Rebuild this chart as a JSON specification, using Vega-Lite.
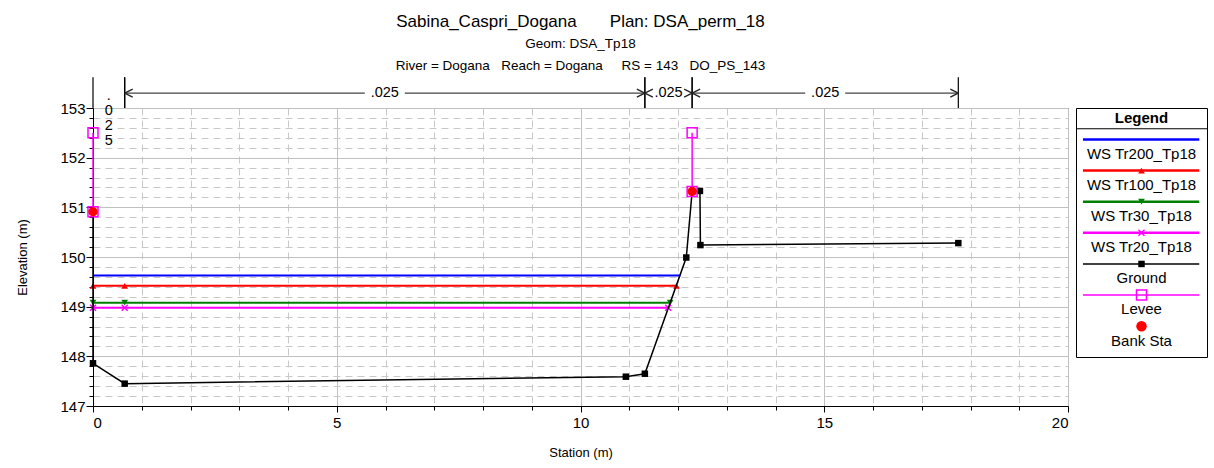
{
  "$schema": "https://vega.github.io/schema/vega-lite/v6.json",
  "background": "white",
  "padding": {"left": 16, "top": 12, "right": 0, "bottom": 0},
  "spacing": 8,
  "bounds": "flush",
  "config": {
    "font": "Liberation Sans",
    "view": {"stroke": "black", "strokeWidth": 1},
    "axis": {"labelColor": "black", "titleColor": "black", "tickColor": "black", "domainColor": "black", "titleFontWeight": "normal"}
  },
  "datasets": {
    "profile": [
      {"series": "WS Tr200_Tp18", "station": 0, "elev": 149.63},
      {"series": "WS Tr200_Tp18", "station": 12.05, "elev": 149.63},
      {"series": "WS Tr100_Tp18", "station": 0, "elev": 149.42},
      {"series": "WS Tr100_Tp18", "station": 0.65, "elev": 149.42},
      {"series": "WS Tr100_Tp18", "station": 11.97, "elev": 149.42},
      {"series": "WS Tr30_Tp18", "station": 0, "elev": 149.08},
      {"series": "WS Tr30_Tp18", "station": 0.65, "elev": 149.08},
      {"series": "WS Tr30_Tp18", "station": 11.84, "elev": 149.08},
      {"series": "WS Tr20_Tp18", "station": 0, "elev": 148.98},
      {"series": "WS Tr20_Tp18", "station": 0.65, "elev": 148.98},
      {"series": "WS Tr20_Tp18", "station": 11.8, "elev": 148.98},
      {"series": "Ground", "station": 0, "elev": 150.91},
      {"series": "Ground", "station": 0, "elev": 147.86},
      {"series": "Ground", "station": 0.65, "elev": 147.45},
      {"series": "Ground", "station": 10.93, "elev": 147.59},
      {"series": "Ground", "station": 11.32, "elev": 147.65},
      {"series": "Ground", "station": 12.17, "elev": 149.99},
      {"series": "Ground", "station": 12.29, "elev": 151.32},
      {"series": "Ground", "station": 12.45, "elev": 151.33},
      {"series": "Ground", "station": 12.46, "elev": 150.24},
      {"series": "Ground", "station": 17.75, "elev": 150.28},
      {"series": "Levee", "side": "left", "station": 0, "elev": 152.5},
      {"series": "Levee", "side": "left", "station": 0, "elev": 150.91},
      {"series": "Levee", "side": "right", "station": 12.29, "elev": 152.5},
      {"series": "Levee", "side": "right", "station": 12.29, "elev": 151.32},
      {"series": "Bank Sta", "station": 0, "elev": 150.91},
      {"series": "Bank Sta", "station": 12.29, "elev": 151.32}
    ],
    "nvalues": [
      {"from": 0, "to": 0.65, "n": ".025"},
      {"from": 0.65, "to": 11.32, "n": ".025"},
      {"from": 11.32, "to": 12.29, "n": ".025"},
      {"from": 12.29, "to": 17.75, "n": ".025"}
    ],
    "legend": [
      {"series": "WS Tr200_Tp18"},
      {"series": "WS Tr100_Tp18"},
      {"series": "WS Tr30_Tp18"},
      {"series": "WS Tr20_Tp18"},
      {"series": "Ground"},
      {"series": "Levee"},
      {"series": "Bank Sta"}
    ]
  },
  "hconcat": [
    {
      "width": 975,
      "height": 298,
      "title": {
        "text": "Sabina_Caspri_Dogana\u00a0\u00a0\u00a0\u00a0\u00a0\u00a0\u00a0Plan: DSA_perm_18",
        "subtitle": ["Geom: DSA_Tp18", "River = Dogana\u00a0\u00a0\u00a0Reach = Dogana\u00a0\u00a0\u00a0\u00a0\u00a0RS = 143\u00a0\u00a0\u00a0DO_PS_143"],
        "fontSize": 17,
        "fontWeight": "normal",
        "color": "black",
        "subtitleFontSize": 13.5,
        "subtitleColor": "black",
        "subtitlePadding": 6,
        "subtitleLineHeight": 22,
        "anchor": "middle",
        "frame": "group",
        "offset": 3
      },
      "layer": [
        {
          "data": {"name": "profile"},
          "mark": {"type": "point", "opacity": 0},
          "encoding": {
            "x": {"field": "station", "type": "quantitative", "scale": {"domain": [0, 20], "nice": false, "zero": false},
              "axis": {"orient": "bottom", "values": [1,2,3,4,6,7,8,9,11,12,13,14,16,17,18,19], "labels": false, "domain": false, "tickSize": 4, "grid": true, "gridDash": [7, 5], "gridColor": "#c8c8c8", "title": null}},
            "y": {"field": "elev", "type": "quantitative", "scale": {"domain": [147, 153], "nice": false, "zero": false},
              "axis": {"orient": "left", "values": [147.2,147.4,147.6,147.8,148.2,148.4,148.6,148.8,149.2,149.4,149.6,149.8,150.2,150.4,150.6,150.8,151.2,151.4,151.6,151.8,152.2,152.4,152.6,152.8], "labels": false, "domain": false, "tickSize": 4, "grid": true, "gridDash": [7, 5], "gridColor": "#c8c8c8", "title": null}}
          }
        },
        {
          "data": {"name": "profile"},
          "encoding": {
            "x": {"field": "station", "type": "quantitative", "scale": {"domain": [0, 20], "nice": false, "zero": false},
              "axis": {"orient": "bottom", "values": [0, 5, 10, 15, 20], "format": "d", "title": "Station (m)", "titleFontSize": 13, "titlePadding": 16, "labelFontSize": 15, "labelPadding": 3, "tickSize": 6, "grid": true, "gridColor": "#c0c0c0"}},
            "y": {"field": "elev", "type": "quantitative", "scale": {"domain": [147, 153], "nice": false, "zero": false},
              "axis": {"orient": "left", "values": [147, 148, 149, 150, 151, 152, 153], "format": "d", "title": "Elevation (m)", "titleFontSize": 13, "titlePadding": 30, "labelFontSize": 15, "labelPadding": 1, "tickSize": 7, "grid": true, "gridColor": "#c0c0c0"}},
            "color": {"field": "series", "type": "nominal", "legend": null,
              "scale": {"domain": ["WS Tr200_Tp18", "WS Tr100_Tp18", "WS Tr30_Tp18", "WS Tr20_Tp18", "Ground", "Levee", "Bank Sta"],
                        "range": ["#0000ff", "#ff0000", "#008000", "#ff00ff", "#000000", "#ff00ff", "#ff0000"]}}
          },
          "layer": [
            {
              "transform": [{"filter": "indexof(datum.series, 'WS') == 0"}],
              "mark": {"type": "line", "strokeWidth": 2},
              "encoding": {"order": {"value": null}}
            },
            {
              "transform": [{"filter": "datum.series == 'WS Tr100_Tp18'"}],
              "mark": {"type": "point", "filled": true, "shape": "triangle-up", "size": 45, "opacity": 1}
            },
            {
              "transform": [{"filter": "datum.series == 'WS Tr30_Tp18'"}],
              "mark": {"type": "point", "filled": true, "shape": "triangle-down", "size": 45, "opacity": 1}
            },
            {
              "transform": [{"filter": "datum.series == 'WS Tr20_Tp18'"}],
              "mark": {"type": "point", "filled": false, "shape": "M-1,-1L1,1M-1,1L1,-1", "size": 36, "strokeWidth": 1.5, "opacity": 1}
            },
            {
              "transform": [{"filter": "datum.series == 'Ground'"}],
              "mark": {"type": "line", "strokeWidth": 1.5},
              "encoding": {"order": {"value": null}}
            },
            {
              "transform": [{"filter": "datum.series == 'Ground'"}],
              "mark": {"type": "point", "filled": true, "shape": "square", "size": 42, "opacity": 1}
            },
            {
              "transform": [{"filter": "datum.series == 'Levee'"}],
              "mark": {"type": "line", "strokeWidth": 1.5},
              "encoding": {"detail": {"field": "side"}, "order": {"value": null}}
            },
            {
              "transform": [{"filter": "datum.series == 'Levee'"}],
              "mark": {"type": "point", "filled": false, "shape": "square", "size": 100, "strokeWidth": 1.5, "opacity": 1}
            },
            {
              "transform": [{"filter": "datum.series == 'Bank Sta'"}],
              "mark": {"type": "point", "filled": true, "shape": "circle", "size": 85, "opacity": 1}
            }
          ]
        },
        {
          "data": {"name": "nvalues"},
          "transform": [
            {"calculate": "(datum.from + datum.to) / 2", "as": "mid"},
            {"calculate": "join(split(datum.n, ''), '\\n')", "as": "stacked"}
          ],
          "layer": [
            {
              "mark": {"type": "rule", "color": "black", "strokeWidth": 1.2},
              "encoding": {
                "x": {"field": "from", "type": "quantitative", "scale": {"domain": [0, 20], "nice": false, "zero": false}, "axis": null},
                "y": {"datum": 153, "type": "quantitative", "scale": {"domain": [147, 153], "nice": false, "zero": false}, "axis": null},
                "y2": {"datum": 153.62}
              }
            },
            {
              "mark": {"type": "rule", "color": "black", "strokeWidth": 1.2},
              "encoding": {
                "x": {"field": "to", "type": "quantitative", "scale": {"domain": [0, 20], "nice": false, "zero": false}, "axis": null},
                "y": {"datum": 153, "type": "quantitative", "scale": {"domain": [147, 153], "nice": false, "zero": false}, "axis": null},
                "y2": {"datum": 153.62}
              }
            },
            {
              "transform": [{"filter": "datum.to - datum.from > 2"}],
              "mark": {"type": "rule", "color": "#444444", "strokeWidth": 1.2, "x2Offset": -20},
              "encoding": {
                "x": {"field": "from", "type": "quantitative", "scale": {"domain": [0, 20], "nice": false, "zero": false}, "axis": null},
                "x2": {"field": "mid"},
                "y": {"datum": 153.3, "type": "quantitative", "scale": {"domain": [147, 153], "nice": false, "zero": false}, "axis": null}
              }
            },
            {
              "transform": [{"filter": "datum.to - datum.from > 2"}],
              "mark": {"type": "rule", "color": "#444444", "strokeWidth": 1.2, "xOffset": 20},
              "encoding": {
                "x": {"field": "mid", "type": "quantitative", "scale": {"domain": [0, 20], "nice": false, "zero": false}, "axis": null},
                "x2": {"field": "to"},
                "y": {"datum": 153.3, "type": "quantitative", "scale": {"domain": [147, 153], "nice": false, "zero": false}, "axis": null}
              }
            },
            {
              "transform": [{"filter": "datum.to - datum.from > 0.9"}],
              "mark": {"type": "point", "shape": "M0,0L2,-1M0,0L2,1", "filled": false, "size": 64, "color": "#222222", "strokeWidth": 1.3, "opacity": 1},
              "encoding": {
                "x": {"field": "from", "type": "quantitative", "scale": {"domain": [0, 20], "nice": false, "zero": false}, "axis": null},
                "y": {"datum": 153.3, "type": "quantitative", "scale": {"domain": [147, 153], "nice": false, "zero": false}, "axis": null}
              }
            },
            {
              "transform": [{"filter": "datum.to - datum.from > 0.9"}],
              "mark": {"type": "point", "shape": "M0,0L-2,-1M0,0L-2,1", "filled": false, "size": 64, "color": "#222222", "strokeWidth": 1.3, "opacity": 1},
              "encoding": {
                "x": {"field": "to", "type": "quantitative", "scale": {"domain": [0, 20], "nice": false, "zero": false}, "axis": null},
                "y": {"datum": 153.3, "type": "quantitative", "scale": {"domain": [147, 153], "nice": false, "zero": false}, "axis": null}
              }
            },
            {
              "transform": [{"filter": "datum.to - datum.from > 0.9"}],
              "mark": {"type": "text", "fontSize": 14.5, "baseline": "middle", "align": "center", "color": "black"},
              "encoding": {
                "x": {"field": "mid", "type": "quantitative", "scale": {"domain": [0, 20], "nice": false, "zero": false}, "axis": null},
                "y": {"datum": 153.3, "type": "quantitative", "scale": {"domain": [147, 153], "nice": false, "zero": false}, "axis": null},
                "text": {"field": "n"}
              }
            },
            {
              "transform": [{"filter": "datum.to - datum.from <= 0.9"}],
              "mark": {"type": "text", "fontSize": 14.5, "baseline": "alphabetic", "align": "center", "color": "black", "lineBreak": "\n", "lineHeight": 15},
              "encoding": {
                "x": {"field": "mid", "type": "quantitative", "scale": {"domain": [0, 20], "nice": false, "zero": false}, "axis": null},
                "y": {"datum": 153.16, "type": "quantitative", "scale": {"domain": [147, 153], "nice": false, "zero": false}, "axis": null},
                "text": {"field": "stacked"}
              }
            }
          ]
        }
      ],
      "resolve": {"axis": {"x": "independent", "y": "independent"}}
    },
    {
      "width": 131,
      "height": 249,
      "data": {"name": "legend"},
      "encoding": {
        "y": {"field": "series", "type": "nominal", "axis": null,
          "scale": {"type": "point", "domain": ["WS Tr200_Tp18", "WS Tr100_Tp18", "WS Tr30_Tp18", "WS Tr20_Tp18", "Ground", "Levee", "Bank Sta"], "padding": 1.016, "align": 0.735}},
        "x": {"datum": 0.5, "type": "quantitative", "scale": {"domain": [0, 1]}, "axis": null}
      },
      "layer": [
        {
          "transform": [{"filter": "datum.series == 'WS Tr200_Tp18'"}],
          "mark": {"type": "text", "text": "Legend", "fontSize": 15, "fontWeight": "bold", "baseline": "middle", "align": "center", "color": "black", "yOffset": -36}
        },
        {
          "transform": [{"filter": "datum.series == 'WS Tr200_Tp18'"}],
          "mark": {"type": "rule", "color": "black", "yOffset": -25},
          "encoding": {
            "x": {"datum": 0, "type": "quantitative", "scale": {"domain": [0, 1]}, "axis": null},
            "x2": {"datum": 1}
          }
        },
        {
          "transform": [{"filter": "indexof(datum.series, 'WS') == 0"}],
          "mark": {"type": "rule", "strokeWidth": 2.5, "yOffset": -14.3},
          "encoding": {
            "x": {"datum": 0.053, "type": "quantitative", "scale": {"domain": [0, 1]}, "axis": null},
            "x2": {"datum": 0.941},
            "color": {"field": "series", "type": "nominal", "legend": null,
              "scale": {"domain": ["WS Tr200_Tp18", "WS Tr100_Tp18", "WS Tr30_Tp18", "WS Tr20_Tp18", "Ground", "Levee", "Bank Sta"],
                        "range": ["#0000ff", "#ff0000", "#008000", "#ff00ff", "#000000", "#ff00ff", "#ff0000"]}}
          }
        },
        {
          "transform": [{"filter": "datum.series == 'Ground'"}],
          "mark": {"type": "rule", "strokeWidth": 1.5, "yOffset": -14.3, "color": "#000000"},
          "encoding": {
            "x": {"datum": 0.053, "type": "quantitative", "scale": {"domain": [0, 1]}, "axis": null},
            "x2": {"datum": 0.941}
          }
        },
        {
          "transform": [{"filter": "datum.series == 'Levee'"}],
          "mark": {"type": "rule", "strokeWidth": 1.5, "yOffset": -14.3, "color": "#ff00ff"},
          "encoding": {
            "x": {"datum": 0.053, "type": "quantitative", "scale": {"domain": [0, 1]}, "axis": null},
            "x2": {"datum": 0.941}
          }
        },
        {
          "transform": [{"filter": "datum.series == 'WS Tr100_Tp18'"}],
          "mark": {"type": "point", "filled": true, "shape": "triangle-up", "size": 45, "color": "#ff0000", "opacity": 1, "yOffset": -14.3}
        },
        {
          "transform": [{"filter": "datum.series == 'WS Tr30_Tp18'"}],
          "mark": {"type": "point", "filled": true, "shape": "triangle-down", "size": 45, "color": "#008000", "opacity": 1, "yOffset": -14.3}
        },
        {
          "transform": [{"filter": "datum.series == 'WS Tr20_Tp18'"}],
          "mark": {"type": "point", "filled": false, "shape": "M-1,-1L1,1M-1,1L1,-1", "size": 36, "strokeWidth": 1.5, "color": "#ff00ff", "opacity": 1, "yOffset": -14.3}
        },
        {
          "transform": [{"filter": "datum.series == 'Ground'"}],
          "mark": {"type": "point", "filled": true, "shape": "square", "size": 42, "color": "#000000", "opacity": 1, "yOffset": -14.3}
        },
        {
          "transform": [{"filter": "datum.series == 'Levee'"}],
          "mark": {"type": "point", "filled": false, "shape": "square", "size": 100, "strokeWidth": 1.5, "color": "#ff00ff", "opacity": 1, "yOffset": -14.3}
        },
        {
          "transform": [{"filter": "datum.series == 'Bank Sta'"}],
          "mark": {"type": "point", "filled": true, "shape": "circle", "size": 110, "color": "#ff0000", "opacity": 1, "yOffset": -14.3}
        },
        {
          "mark": {"type": "text", "fontSize": 15, "baseline": "middle", "align": "center", "color": "black"},
          "encoding": {"text": {"field": "series"}}
        }
      ]
    }
  ]
}
